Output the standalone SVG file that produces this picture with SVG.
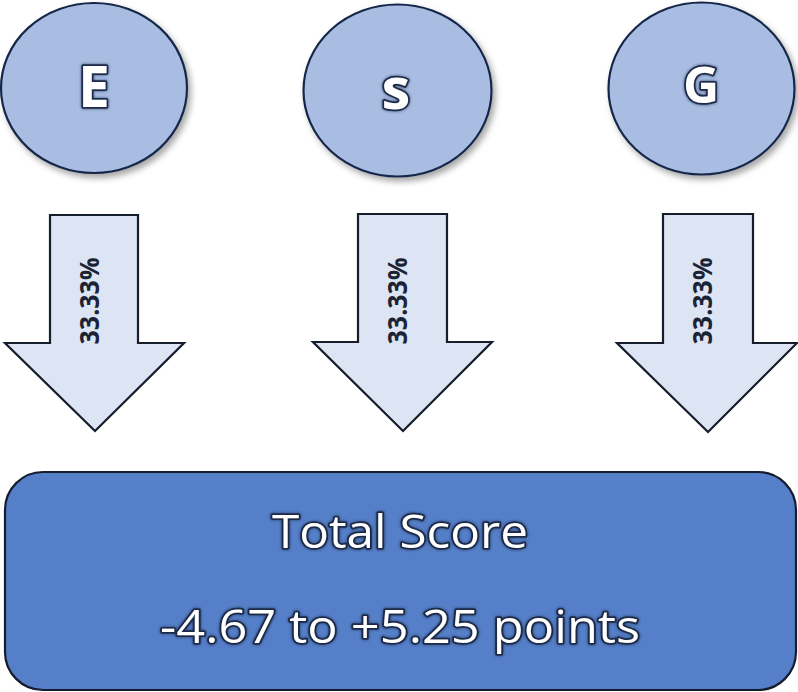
<svg xmlns="http://www.w3.org/2000/svg" width="798" height="692" viewBox="0 0 798 692">
<defs>
<filter id="sh" x="-10%" y="-10%" width="130%" height="130%">
<feDropShadow dx="3" dy="4" stdDeviation="3" flood-color="#000" flood-opacity="0.35"/>
</filter>
<filter id="glow" x="-20%" y="-20%" width="140%" height="140%">
<feGaussianBlur in="SourceAlpha" stdDeviation="1.5" result="b"/>
<feFlood flood-color="#1d2b4a" flood-opacity="0.8"/>
<feComposite in2="b" operator="in" result="g"/>
<feMerge><feMergeNode in="g"/><feMergeNode in="SourceGraphic"/></feMerge>
</filter>
</defs>
<style>
.circ{fill:#a9bde3;stroke:#17284a;stroke-width:2.2}
.arr{fill:#dde4f3;stroke:#161d2b;stroke-width:2.2;stroke-linejoin:miter}
.box{fill:#557fc8;stroke:#141d2e;stroke-width:2.2}
.big{font-family:"Open Sans","Noto Sans",sans-serif;fill:#fff;stroke:#1d2b4a;stroke-width:3.5;paint-order:stroke;stroke-linejoin:round;text-anchor:middle}
.lt{font-weight:bold}
.pct{font-family:"Open Sans","Noto Sans",sans-serif;font-weight:bold;font-size:26px;fill:#1b2435;text-anchor:middle}
</style>
<g id="node-E">
<ellipse class="circ" cx="94" cy="88" rx="93" ry="85" filter="url(#sh)"/>
<text class="big lt" x="94" y="107" font-size="57" filter="url(#glow)">E</text>
</g>
<g id="node-S">
<ellipse class="circ" cx="397.5" cy="90.5" rx="94" ry="86" filter="url(#sh)"/>
<text class="big lt" x="396" y="109" font-size="58" filter="url(#glow)">s</text>
</g>
<g id="node-G">
<ellipse class="circ" cx="701.5" cy="88.5" rx="93" ry="86" filter="url(#sh)"/>
<text class="big lt" x="701" y="103" font-size="50" filter="url(#glow)">G</text>
</g>
<g id="connectors">
<g id="arrow-E">
<polygon class="arr" points="50,215 138,215 138,343 184,343 95,431 5,343 50,343"/>
<text class="pct" transform="translate(99,301) rotate(-90)" textLength="87" lengthAdjust="spacingAndGlyphs">33.33%</text>
</g>
<g id="arrow-S">
<polygon class="arr" points="358,214 447,214 447,342 492,342 403,431 313,342 358,342"/>
<text class="pct" transform="translate(407,301) rotate(-90)" textLength="87" lengthAdjust="spacingAndGlyphs">33.33%</text>
</g>
<g id="arrow-G">
<polygon class="arr" points="663,214 753,214 753,343 797,343 708,432 617,343 663,343"/>
<text class="pct" transform="translate(712,301) rotate(-90)" textLength="87" lengthAdjust="spacingAndGlyphs">33.33%</text>
</g>
</g>
<g id="node-total">
<rect class="box" x="5" y="472" width="791" height="218" rx="38" ry="38"/>
<text class="big" x="400" y="548" font-size="46" textLength="256" lengthAdjust="spacingAndGlyphs" filter="url(#glow)">Total Score</text>
<text class="big" x="400" y="643" font-size="46" textLength="480" lengthAdjust="spacingAndGlyphs" filter="url(#glow)">-4.67 to +5.25 points</text>
</g>
</svg>
